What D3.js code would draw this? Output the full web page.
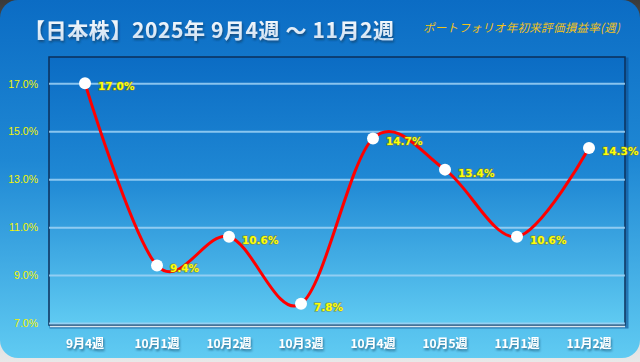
<!DOCTYPE html>
<html>
<head>
<meta charset="utf-8">
<script src="https://cdn.jsdelivr.net/npm/d3@7/dist/d3.min.js"></script>
<style>
  html, body { margin: 0; padding: 0; background: linear-gradient(#3a3a3a, #9a9a9a 40%, #e8e8e8); }
  svg { display: block; }
</style>
</head>
<body>
<svg id="chart" width="640" height="362"></svg>
<script>
// chart data
const weeks = ['9月4週', '10月1週', '10月2週', '10月3週', '10月4週', '10月5週', '11月1週', '11月2週'];
const returns = [17.0, 9.4, 10.6, 7.8, 14.7, 13.4, 10.6, 14.3];
const yTicks = [7, 9, 11, 13, 15, 17];
const titleText = '【日本株】2025年 9月4週 ～ 11月2週';
const subTitleText = 'ポートフォリオ年初来評価損益率(週)';

const W = 640, H = 362;
const margin = {left: 49, right: 15, top: 57, bottom: 37};
const plotW = W - margin.left - margin.right;
const plotH = H - margin.top - margin.bottom;

const svg = d3.select('#chart');
const defs = svg.append('defs');

const bgGrad = defs.append('linearGradient')
  .attr('id', 'bgGrad').attr('x1', 0).attr('y1', 0).attr('x2', 0).attr('y2', 1);
bgGrad.append('stop').attr('offset', '0%').attr('stop-color', '#0b6cc4');
bgGrad.append('stop').attr('offset', '45%').attr('stop-color', '#1f88d4');
bgGrad.append('stop').attr('offset', '100%').attr('stop-color', '#60cbf2');

const titleGrad = defs.append('linearGradient')
  .attr('id', 'titleGrad').attr('x1', 0).attr('y1', 0).attr('x2', 0).attr('y2', 1);
titleGrad.append('stop').attr('offset', '0%').attr('stop-color', '#ffffff');
titleGrad.append('stop').attr('offset', '100%').attr('stop-color', '#c8dcf0');

const shadow = defs.append('filter').attr('id', 'shadow')
  .attr('x', '-10%').attr('y', '-30%').attr('width', '130%').attr('height', '170%');
shadow.append('feDropShadow').attr('dx', 1).attr('dy', 2).attr('stdDeviation', 1)
  .attr('flood-color', '#0a3050').attr('flood-opacity', 0.6);

// card
svg.append('rect')
  .attr('x', 0).attr('y', 0).attr('width', W).attr('height', 358)
  .attr('rx', 18).attr('fill', 'url(#bgGrad)');

// title
svg.append('text')
  .attr('x', 24).attr('y', 38)
  .attr('font-family', '"Noto Sans CJK JP", sans-serif')
  .attr('font-size', 21).attr('font-weight', 'bold')
  .attr('fill', 'url(#titleGrad)')
  .attr('filter', 'url(#shadow)')
  .attr('textLength', 370)
  .text(titleText);

svg.append('text')
  .attr('x', 423).attr('y', 32)
  .attr('font-family', '"Noto Sans CJK JP", sans-serif')
  .attr('font-size', 11.5).attr('font-style', 'italic')
  .attr('fill', '#f2c21a')
  .attr('textLength', 197)
  .text(subTitleText);

const x = d3.scaleBand().domain(weeks).range([margin.left, margin.left + plotW]);
const y = d3.scaleLinear().domain([7, 18.1]).range([margin.top + plotH - 2, margin.top]);

// plot area frame
svg.append('rect')
  .attr('x', margin.left + 2).attr('y', margin.top + 2)
  .attr('width', plotW).attr('height', plotH)
  .attr('fill', 'none').attr('stroke', '#0a4f93').attr('stroke-width', 3).attr('opacity', 0.6);
svg.append('rect')
  .attr('x', margin.left).attr('y', margin.top)
  .attr('width', plotW).attr('height', plotH)
  .attr('fill', 'url(#bgGrad)').attr('stroke', '#0b2f5a').attr('stroke-width', 1.5);
svg.append('line')
  .attr('x1', margin.left + 1).attr('x2', margin.left + plotW)
  .attr('y1', margin.top + plotH + 1.5).attr('y2', margin.top + plotH + 1.5)
  .attr('stroke', '#d8e6ee').attr('stroke-width', 1.5);

// gridlines
const yAxis = d3.axisLeft(y).tickValues(yTicks)
  .tickSize(-plotW).tickFormat(d => d.toFixed(1) + '%');
const gy = svg.append('g')
  .attr('transform', `translate(${margin.left},0)`)
  .call(yAxis);
gy.select('.domain').remove();
gy.selectAll('.tick line')
  .attr('stroke', '#9fd2f4').attr('stroke-width', 2).attr('opacity', 0.85);
gy.selectAll('.tick text')
  .attr('x', -11).attr('dy', '0.35em')
  .attr('font-family', '"Liberation Sans", Arial, sans-serif')
  .attr('font-size', 10.5).attr('fill', '#f4f400');

// x axis
const xAxis = d3.axisBottom(x).tickSize(0);
const gx = svg.append('g')
  .attr('transform', `translate(0,${margin.top + plotH})`)
  .call(xAxis);
gx.select('.domain').remove();
gx.selectAll('.tick text')
  .attr('dy', 0).attr('y', 23)
  .attr('font-family', '"Noto Sans CJK JP", sans-serif')
  .attr('font-size', 12).attr('font-weight', 'bold')
  .attr('fill', '#ffffff')
  .attr('filter', 'url(#shadow)');

// line
const cx = (d, i) => x(weeks[i]) + x.bandwidth() / 2;
const line = d3.line()
  .x(cx)
  .y(d => y(d))
  .curve(d3.curveCatmullRom.alpha(0));

svg.append('path')
  .datum(returns)
  .attr('d', line)
  .attr('fill', 'none')
  .attr('stroke', '#ff0000')
  .attr('stroke-width', 3);

svg.selectAll('circle.pt')
  .data(returns)
  .join('circle')
  .attr('class', 'pt')
  .attr('cx', cx)
  .attr('cy', d => y(d))
  .attr('r', 6)
  .attr('fill', '#ffffff');

svg.selectAll('text.lbl')
  .data(returns)
  .join('text')
  .attr('class', 'lbl')
  .attr('x', (d, i) => cx(d, i) + 13)
  .attr('y', d => y(d) + 7)
  .attr('font-family', '"DejaVu Sans", sans-serif')
  .attr('font-size', 10.5).attr('font-weight', 'bold')
  .attr('fill', '#ffff00')
  .attr('stroke', '#8a7a10').attr('stroke-width', 1.6)
  .attr('stroke-opacity', 0.55)
  .attr('paint-order', 'stroke')
  .text(d => d.toFixed(1) + '%');
</script>
</body>
</html>
